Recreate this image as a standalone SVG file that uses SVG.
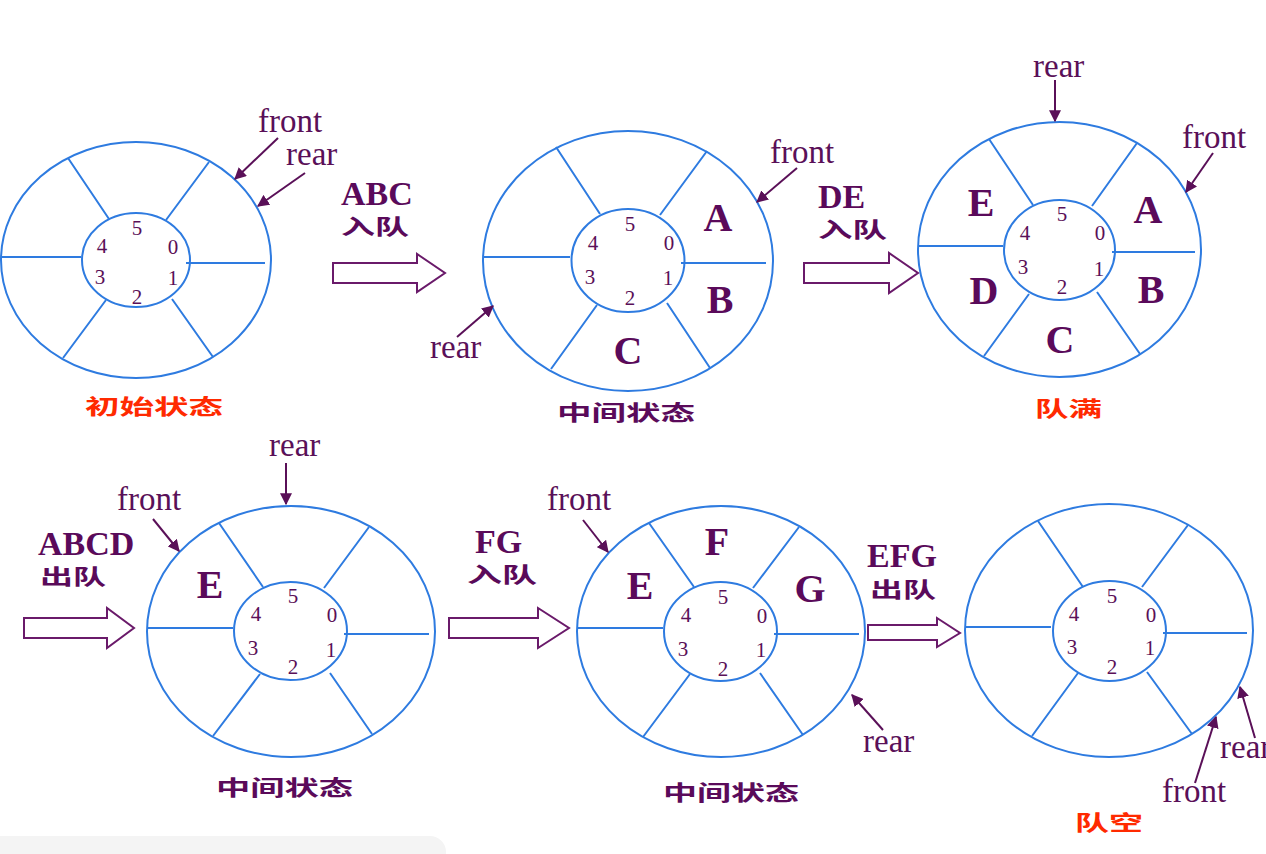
<svg xmlns="http://www.w3.org/2000/svg" width="1266" height="854" viewBox="0 0 1266 854">
<defs>
<style>
.o{fill:none;stroke:#2e7be0;stroke-width:2}
.n{font-family:"Liberation Serif",serif;font-size:21px;fill:#5a1058;text-anchor:middle}
.L{font-family:"Liberation Serif",serif;font-weight:bold;font-size:40px;fill:#5a0a5a;text-anchor:middle}
.p{font-family:"Liberation Serif",serif;font-size:33px;fill:#5a1058}
.op{font-family:"Liberation Serif",serif;font-weight:bold;font-size:34px;fill:#5a0a5a}
.cn{font-family:"Noto Sans CJK SC",sans-serif;font-weight:bold;font-size:21px;fill:#5a0a5a}
.red{fill:#ff2a00}
.ptr{stroke:#5a1058;stroke-width:2;fill:none;marker-end:url(#ah)}
.big{fill:#fff;stroke:#6a1a6a;stroke-width:2}
</style>
<marker id="ah" viewBox="0 0 10 10" refX="9" refY="5" markerWidth="6" markerHeight="6" orient="auto">
<path d="M0,0 L10,5 L0,10 z" fill="#5a1058"/>
</marker>
</defs>
<rect width="1266" height="854" fill="#fff"/>
<rect x="-20" y="836" width="466" height="40" rx="16" fill="#f4f4f4"/>

<g id="state1">
<ellipse class="o" cx="136" cy="260" rx="135" ry="118"/>
<ellipse class="o" cx="136" cy="260" rx="54" ry="47"/>
<path class="o" d="M1,257H81 M186,263H265 M68,158L109,219 M209,162L166,220 M106,300L63,358 M172,299L213,357"/>
<text class="n" x="137" y="235">5</text><text class="n" x="102" y="253">4</text><text class="n" x="173" y="254">0</text>
<text class="n" x="100" y="284">3</text><text class="n" x="173" y="285">1</text><text class="n" x="137" y="304">2</text>
<text class="p" x="258" y="132">front</text><text class="p" x="286" y="165">rear</text>
<text class="cn red" x="85" y="414" textLength="138" lengthAdjust="spacingAndGlyphs">初始状态</text>
</g>

<g id="state2">
<ellipse class="o" cx="628" cy="261" rx="145" ry="130"/>
<ellipse class="o" cx="628" cy="260.5" rx="56.5" ry="51.5"/>
<path class="o" d="M483,257H570 M681,263H766 M556,147L600,214 M707,151L660,215 M597,305L551,369 M667,303L710,368"/>
<text class="n" x="630" y="231">5</text><text class="n" x="593" y="250">4</text><text class="n" x="669" y="250">0</text>
<text class="n" x="590" y="284">3</text><text class="n" x="668" y="285">1</text><text class="n" x="630" y="305">2</text>
<text class="L" x="718" y="231">A</text><text class="L" x="720" y="313">B</text><text class="L" x="628" y="364">C</text>
<text class="p" x="770" y="163">front</text><text class="p" x="430" y="358">rear</text>
<text class="cn" x="557" y="420" textLength="138" lengthAdjust="spacingAndGlyphs">中间状态</text>
</g>

<g id="state3">
<ellipse class="o" cx="1059.5" cy="249.5" rx="141.5" ry="127.5"/>
<ellipse class="o" cx="1059.5" cy="250" rx="55.5" ry="50"/>
<path class="o" d="M918,246H1003 M1112,252H1195 M989,139L1033,205 M1137,143L1092,206 M1029,294L984,356 M1097,292L1140,354"/>
<text class="n" x="1062" y="221">5</text><text class="n" x="1025" y="240">4</text><text class="n" x="1100" y="240">0</text>
<text class="n" x="1023" y="274">3</text><text class="n" x="1099" y="276">1</text><text class="n" x="1062" y="294">2</text>
<text class="L" x="981" y="216">E</text><text class="L" x="1148" y="223">A</text><text class="L" x="984" y="304">D</text>
<text class="L" x="1151" y="303">B</text><text class="L" x="1060" y="353">C</text>
<text class="p" x="1033" y="77">rear</text><text class="p" x="1182" y="148">front</text>
<text class="cn red" x="1035" y="416" textLength="67" lengthAdjust="spacingAndGlyphs">队满</text>
</g>

<g id="state4">
<ellipse class="o" cx="291" cy="631.5" rx="144" ry="125.5"/>
<ellipse class="o" cx="290.5" cy="631" rx="56.5" ry="49"/>
<path class="o" d="M147,628H233 M344,634H429 M219,523L263,587 M369,527L324,588 M260,674L213,736 M330,673L372,734"/>
<text class="n" x="293" y="603">5</text><text class="n" x="256" y="621">4</text><text class="n" x="332" y="622">0</text>
<text class="n" x="253" y="655">3</text><text class="n" x="331" y="657">1</text><text class="n" x="293" y="674">2</text>
<text class="L" x="210" y="598">E</text>
<text class="p" x="117" y="510">front</text><text class="p" x="269" y="456">rear</text>
<text class="cn" x="216" y="795" textLength="137" lengthAdjust="spacingAndGlyphs">中间状态</text>
</g>

<g id="state5">
<ellipse class="o" cx="721" cy="631.5" rx="144" ry="125.5"/>
<ellipse class="o" cx="720.5" cy="631.5" rx="56.5" ry="49.5"/>
<path class="o" d="M577,628H663 M774,634H859 M649,523L694,587 M799,527L753,588 M690,674L643,737 M760,673L803,735"/>
<text class="n" x="723" y="604">5</text><text class="n" x="686" y="622">4</text><text class="n" x="762" y="623">0</text>
<text class="n" x="683" y="656">3</text><text class="n" x="761" y="657">1</text><text class="n" x="723" y="676">2</text>
<text class="L" x="717" y="555">F</text><text class="L" x="640" y="599">E</text><text class="L" x="810" y="602">G</text>
<text class="p" x="547" y="510">front</text><text class="p" x="863" y="752">rear</text>
<text class="cn" x="663" y="800" textLength="136" lengthAdjust="spacingAndGlyphs">中间状态</text>
</g>

<g id="state6">
<ellipse class="o" cx="1109" cy="630.5" rx="144" ry="126.5"/>
<ellipse class="o" cx="1109.5" cy="631" rx="56.5" ry="50"/>
<path class="o" d="M965,627H1051 M1163,633H1247 M1038,521L1083,587 M1188,525L1142,587 M1078,673L1032,736 M1147,672L1192,734"/>
<text class="n" x="1112" y="603">5</text><text class="n" x="1074" y="621">4</text><text class="n" x="1151" y="622">0</text>
<text class="n" x="1072" y="654">3</text><text class="n" x="1150" y="655">1</text><text class="n" x="1112" y="674">2</text>
<text class="p" x="1162" y="802">front</text><text class="p" x="1220" y="758">rear</text>
<text class="cn red" x="1075" y="830" textLength="68" lengthAdjust="spacingAndGlyphs">队空</text>
</g>

<g id="connectors">
<g id="ops">
<polygon class="big" points="333,263 417,263 417,254 445,273 417,292 417,283 333,283"/>
<text class="op" x="341" y="205">ABC</text>
<text class="cn" x="341" y="234" textLength="68" lengthAdjust="spacingAndGlyphs">入队</text>
<polygon class="big" points="804,263 889,263 889,253 918,273 889,293 889,283 804,283"/>
<text class="op" x="818" y="208">DE</text>
<text class="cn" x="818" y="237" textLength="69" lengthAdjust="spacingAndGlyphs">入队</text>
<polygon class="big" points="24,618 107,618 107,608 134,628 107,648 107,638 24,638"/>
<text class="op" x="38" y="555">ABCD</text>
<text class="cn" x="40" y="584" textLength="66" lengthAdjust="spacingAndGlyphs">出队</text>
<polygon class="big" points="449,618 538,618 538,608 569,628 538,648 538,638 449,638"/>
<text class="op" x="475" y="553">FG</text>
<text class="cn" x="467" y="582" textLength="70" lengthAdjust="spacingAndGlyphs">入队</text>
<polygon class="big" points="868,625 937,625 937,618 960,633 937,647 937,640 868,640"/>
<text class="op" x="867" y="567">EFG</text>
<text class="cn" x="870" y="597" textLength="66" lengthAdjust="spacingAndGlyphs">出队</text>
</g>
<g id="pointers">
<line class="ptr" x1="278" y1="138" x2="235" y2="179"/>
<line class="ptr" x1="305" y1="173" x2="258" y2="206"/>
<line class="ptr" x1="797" y1="168" x2="757" y2="202"/>
<line class="ptr" x1="457" y1="337" x2="493" y2="306"/>
<line class="ptr" x1="1055" y1="80" x2="1055" y2="121"/>
<line class="ptr" x1="1213" y1="153" x2="1186" y2="192"/>
<line class="ptr" x1="153" y1="519" x2="179" y2="551"/>
<line class="ptr" x1="286" y1="463" x2="286" y2="504"/>
<line class="ptr" x1="583" y1="520" x2="608" y2="552"/>
<line class="ptr" x1="883" y1="730" x2="852" y2="695"/>
<line class="ptr" x1="1195" y1="783" x2="1216" y2="717"/>
<line class="ptr" x1="1255" y1="738" x2="1240" y2="687"/>
</g>
</g>
</svg>
